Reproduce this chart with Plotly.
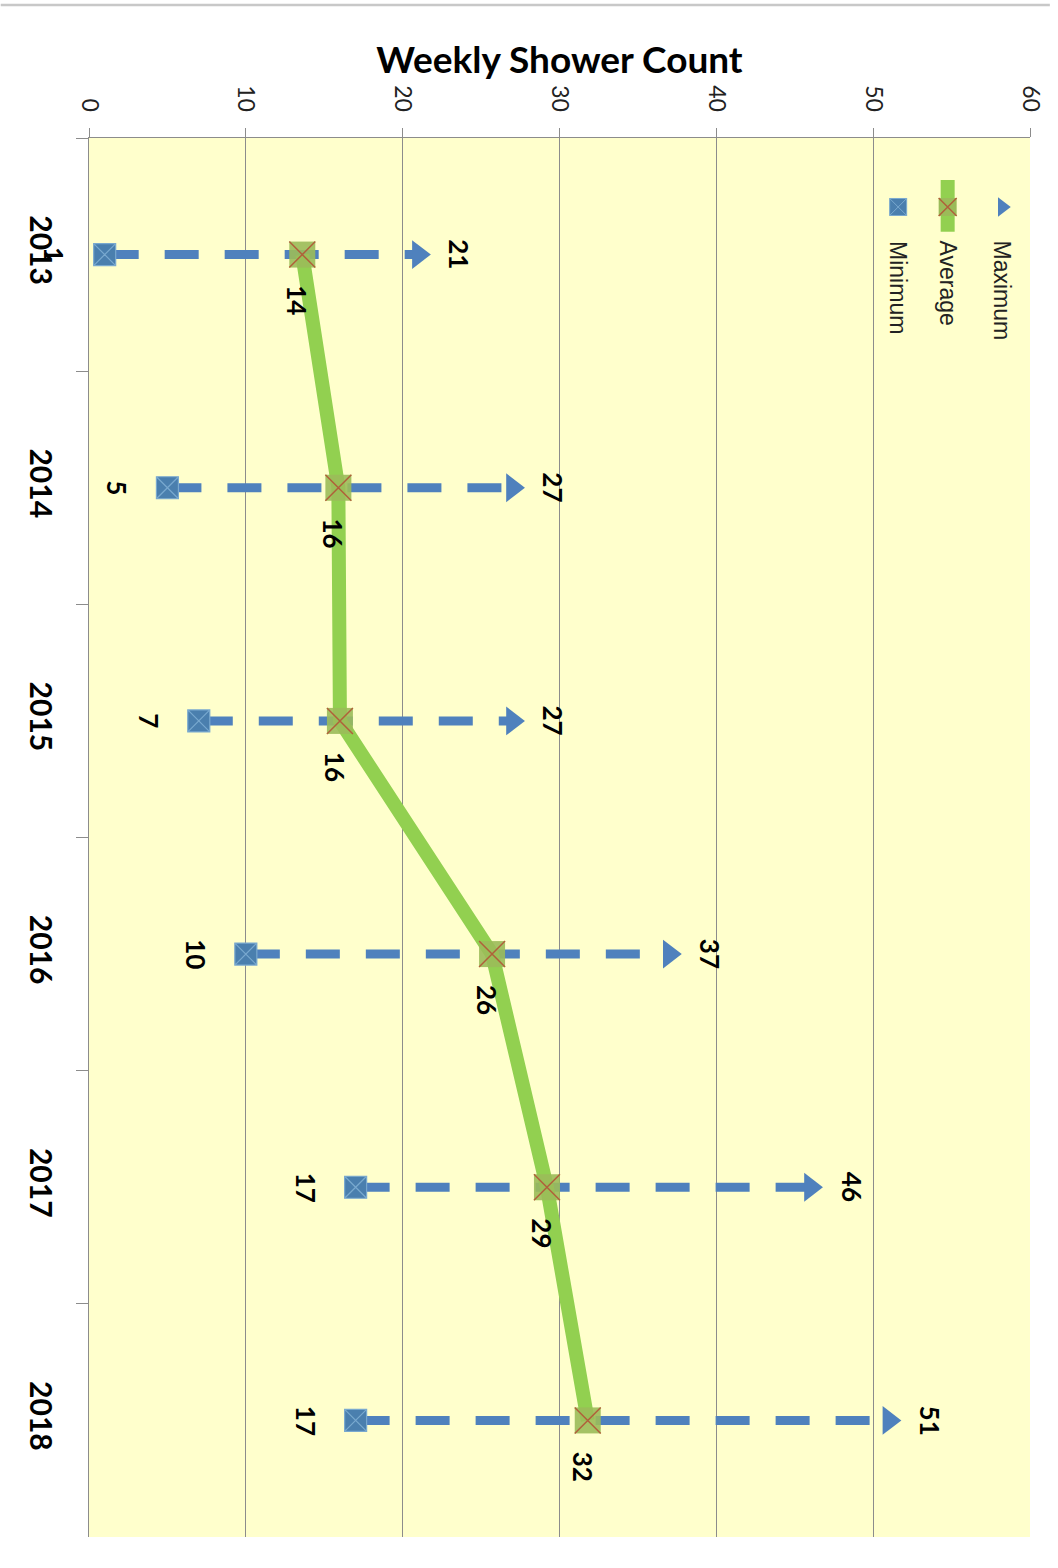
import plotly.graph_objects as go

years = ["2013", "2014", "2015", "2016", "2017", "2018"]
minimum = [1, 5, 7, 10, 17, 17]
average = [13.6, 15.9, 16.0, 25.7, 29.2, 31.8]
maximum = [21, 27, 27, 37, 46, 51]
x_ticks = [0, 10, 20, 30, 40, 50, 60]
legend_names = ["Maximum", "Average", "Minimum"]

BLUE = "#4F81BD"
GREEN = "#92D050"
MIN_BLUE = "#4A7FAE"
GRID = "#8C8C8C"

fig = go.Figure()

# dashed min->max range lines
for yr, lo, hi in zip(years, minimum, maximum):
    fig.add_trace(go.Scatter(
        x=[lo, hi], y=[yr, yr], mode="lines",
        line=dict(color=BLUE, width=9, dash="34px,26px"),
        showlegend=False, hoverinfo="skip"))

# arrow heads at maximum
fig.add_trace(go.Scatter(
    x=maximum, y=years, mode="markers", name="Maximum",
    marker=dict(symbol="triangle-right", size=25, color=BLUE),
    showlegend=False))

# average line
fig.add_trace(go.Scatter(
    x=average, y=years, mode="lines", name="Average",
    line=dict(color=GREEN, width=14), showlegend=False))
fig.add_trace(go.Scatter(
    x=average, y=years, mode="markers",
    marker=dict(symbol="square", size=26, color="#9BBB59", opacity=0.9),
    showlegend=False, hoverinfo="skip"))
fig.add_trace(go.Scatter(
    x=average, y=years, mode="markers",
    marker=dict(symbol="x-thin-open", size=26, color="#B0603A",
                line=dict(color="#B0603A", width=1.5)),
    showlegend=False, hoverinfo="skip"))

# minimum markers
fig.add_trace(go.Scatter(
    x=minimum, y=years, mode="markers", name="Minimum",
    marker=dict(symbol="square-x", size=22, color=MIN_BLUE,
                line=dict(color="#79A9CF", width=1.2)),
    showlegend=False))

# data labels (rotated)
lab_font = dict(family="Lato", size=26, color="black")
ann = []
for i, (lo, av, hi) in enumerate(zip(minimum, average, maximum)):
    ann.append(dict(x=hi, y=i, xref="x", yref="y", text=f"<b>{round(hi)}</b>",
                    showarrow=False, textangle=90, font=lab_font, xshift=41))
    ann.append(dict(x=lo, y=i, xref="x", yref="y", text=f"<b>{round(lo)}</b>",
                    showarrow=False, textangle=90, font=lab_font, xshift=-50))
    ann.append(dict(x=av, y=i, xref="x", yref="y", text=f"<b>{round(av)}</b>",
                    showarrow=False, textangle=90, font=lab_font, xshift=-5, yshift=-46))

# legend (rotated, drawn manually on an overlay axis)
leg_x = [0.9705, 0.9125, 0.8599]
leg_y = 0.9507
fig.add_trace(go.Scatter(
    x=[leg_x[0]], y=[leg_y], xaxis="x2", yaxis="y2", mode="markers",
    marker=dict(symbol="triangle-right", size=17, color=BLUE),
    showlegend=False, hoverinfo="skip"))
fig.add_trace(go.Scatter(
    x=[leg_x[1], leg_x[1]], y=[0.970, 0.933], xaxis="x2", yaxis="y2", mode="lines",
    line=dict(color=GREEN, width=14), showlegend=False, hoverinfo="skip"))
fig.add_trace(go.Scatter(
    x=[leg_x[1]], y=[leg_y], xaxis="x2", yaxis="y2", mode="markers",
    marker=dict(symbol="square", size=18, color="#9BBB59"),
    showlegend=False, hoverinfo="skip"))
fig.add_trace(go.Scatter(
    x=[leg_x[1]], y=[leg_y], xaxis="x2", yaxis="y2", mode="markers",
    marker=dict(symbol="x-thin-open", size=18, color="#B0603A",
                line=dict(color="#B0603A", width=1.5)),
    showlegend=False, hoverinfo="skip"))
fig.add_trace(go.Scatter(
    x=[leg_x[2]], y=[leg_y], xaxis="x2", yaxis="y2", mode="markers",
    marker=dict(symbol="square-x", size=17, color=MIN_BLUE,
                line=dict(color="#79A9CF", width=1)),
    showlegend=False, hoverinfo="skip"))
for lx, name in zip(leg_x, legend_names):
    ann.append(dict(x=lx, y=0.928, xref="paper", yref="paper", text=name,
                    showarrow=False, textangle=90, xanchor="center", yanchor="top",
                    font=dict(family="Liberation Sans", size=23, color="#222")))

fig.update_layout(
    width=1058, height=1568, autosize=False,
    margin=dict(l=89, r=18, t=138, b=31),
    paper_bgcolor="white", plot_bgcolor="#FFFFCC",
    title=dict(text="<b>Weekly Shower Count</b>", x=0.5, xref="paper",
               y=1 - 60 / 1568, yref="container", yanchor="middle", xanchor="center",
               font=dict(family="Lato", size=37, color="black")),
    xaxis=dict(range=[0, 60], side="top", tickvals=x_ticks,
               ticktext=[str(t) for t in x_ticks],
               showgrid=True, gridcolor=GRID, gridwidth=1, zeroline=False,
               showline=True, linecolor=GRID, linewidth=1,
               ticks="outside", ticklen=9, tickcolor=GRID,
               tickangle=90, ticklabelstandoff=8,
               tickfont=dict(family="Lato", size=23, color="#222")),
    yaxis=dict(type="category", categoryorder="array", categoryarray=years,
               range=[5.5, -0.5], tickson="boundaries", showgrid=False,
               showline=True, linecolor=GRID, linewidth=1,
               ticks="outside", ticklen=12, tickcolor=GRID,
               tickangle=90, zeroline=False, ticklabelstandoff=22,
               tickfont=dict(family="Lato", size=30, color="black"),
               tickprefix="<b>", ticksuffix="</b>"),
    xaxis2=dict(overlaying="x", range=[0, 1], visible=False, anchor="y2"),
    yaxis2=dict(overlaying="y", range=[0, 1], visible=False, anchor="x2"),
    annotations=ann,
    shapes=[dict(type="line", xref="paper", yref="paper",
                 x0=-0.0938, x1=1.0211, y0=1.095, y1=1.095,
                 line=dict(color="#C8C8C8", width=2.5))],
)

fig.write_html("out.html")
